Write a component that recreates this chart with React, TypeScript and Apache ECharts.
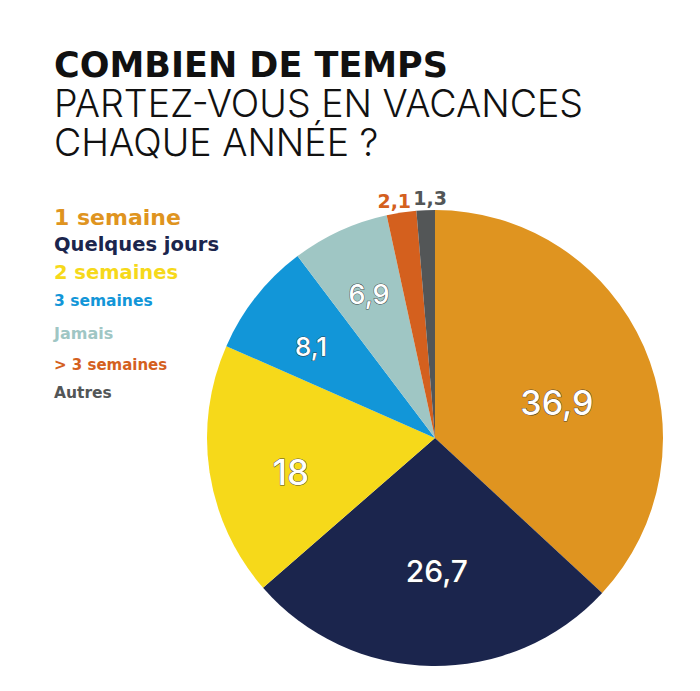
import React, { useEffect, useRef } from "react";
import * as echarts from "echarts";

const titleLines = ["COMBIEN DE TEMPS", "PARTEZ-VOUS EN VACANCES", "CHAQUE ANNÉE ?"];
const categories = ["1 semaine", "Quelques jours", "2 semaines", "3 semaines", "Jamais", "> 3 semaines", "Autres"];
const values = [36.9, 26.7, 18, 8.1, 6.9, 2.1, 1.3];
const colors = ["#DF9420", "#1B254D", "#F6D91A", "#1296D8", "#9FC6C4", "#D4601E", "#535657"];
const legendSizes = [22, 19.5, 19.5, 15.5, 16, 15, 15.5];
const legendHeights = [26, 28, 28, 30, 34, 30, 26];
const labelSizes = [34, 30, 35, 26, 27, 19, 19];
const labelNudges: [number, number][] = [[0, 18], [4, 0], [12, 10], [0, 7], [0, 0], [-5, 3], [5, 3]];

const fmt = (v: number) => String(v).replace(".", ",");

export default function App() {
  const ref = useRef<HTMLDivElement>(null);
  useEffect(() => {
    document.body.style.margin = "0";
    const chart = echarts.init(ref.current!, null, { renderer: "svg" });
    const FONT = "Inter";
    const BOLD = "DejaVu Sans";
    const CX = 435, CY = 438, R = 228;

    const labelSeries = (r0: number, r1: number, idxs: number[], outside: boolean) => ({
      type: "pie",
      silent: true,
      center: [CX, CY],
      radius: [r0, r1],
      startAngle: 90,
      clockwise: true,
      avoidLabelOverlap: false,
      emphasis: { disabled: true },
      labelLine: { show: false },
      itemStyle: { color: "rgba(0,0,0,0)", borderWidth: 0 },
      labelLayout: (p: any) => {
        const n = labelNudges[p.dataIndex];
        return { dx: n[0], dy: n[1] };
      },
      data: categories.map((name, i) => ({
        name,
        value: values[i],
        label: {
          show: idxs.includes(i),
          position: "inside",
          formatter: fmt(values[i]),
          fontFamily: outside ? BOLD : FONT,
          fontWeight: outside ? 700 : 500,
          fontSize: labelSizes[i],
          color: outside ? colors[i] : "#ffffff",
          textBorderColor: outside ? "transparent" : "rgba(50,50,50,0.85)",
          textBorderWidth: outside ? 0 : 1,
        },
      })),
    });

    chart.setOption({
      animation: false,
      backgroundColor: "#ffffff",
      title: titleLines.map((t, i) => ({
        left: 49,
        top: 40 + i * 39,
        text: t,
        textStyle:
          i === 0
            ? { fontFamily: BOLD, fontSize: 35, fontWeight: 700, color: "#111111", lineHeight: 39 }
            : { fontFamily: FONT, fontSize: 37.5, fontWeight: 300, color: "#111111", lineHeight: 39 },
      })),
      legend: {
        orient: "vertical",
        left: 49,
        top: 204,
        padding: 0,
        itemGap: 0,
        itemWidth: 0,
        itemHeight: 0,
        icon: "none",
        selectedMode: false,
        data: categories.map((name, i) => ({
          name,
          icon: "none",
          textStyle: {
            fontFamily: BOLD,
            fontWeight: 700,
            fontSize: legendSizes[i],
            lineHeight: legendHeights[i],
            color: colors[i],
          },
        })),
      },
      series: [
        {
          type: "pie",
          center: [CX, CY],
          radius: [0, R],
          startAngle: 90,
          clockwise: true,
          label: { show: false },
          labelLine: { show: false },
          emphasis: { disabled: true },
          itemStyle: { borderWidth: 0 },
          data: categories.map((name, i) => ({ name, value: values[i], itemStyle: { color: colors[i] } })),
        },
        labelSeries(32, R, [0, 1], false),
        labelSeries(82, R, [2, 3, 4], false),
        labelSeries(R, R + 24, [5, 6], true),
      ],
    });
    return () => chart.dispose();
  }, []);
  return <div ref={ref} style={{ width: 700, height: 691 }} />;
}
